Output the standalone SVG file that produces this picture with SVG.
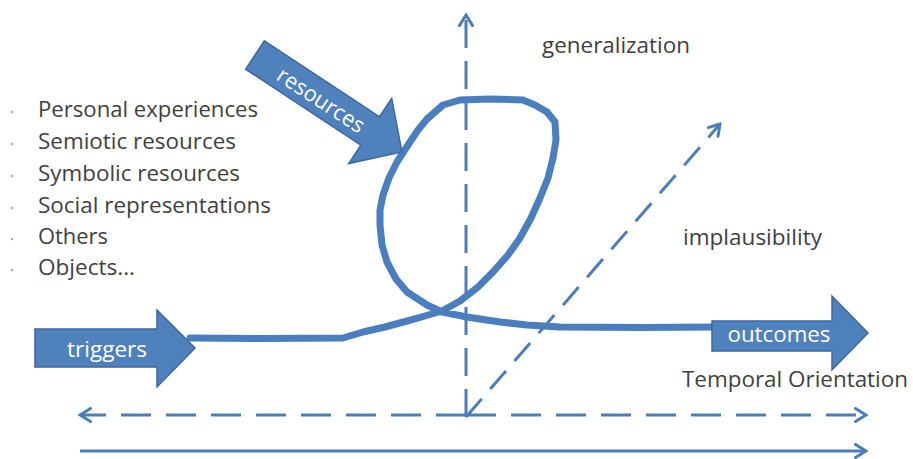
<svg xmlns="http://www.w3.org/2000/svg" width="913" height="459" viewBox="0 0 913 459">
  <style>
    .label { font-family: "Open Sans", "Liberation Sans", sans-serif; font-size: 22px; fill: #3f3f3f; }
    .inner { font-family: "Open Sans", "Liberation Sans", sans-serif; font-size: 22px; fill: #ffffff; }
    .block { fill: #4f81bd; stroke: #3b67a0; stroke-width: 1.5; stroke-linejoin: miter; }
    .axis { fill: none; stroke: #4a7ebb; stroke-width: 3; }
    .dash-v { stroke-dasharray: 28 13; }
    .dash-d { stroke-dasharray: 24 13; }
    .dash-h { stroke-dasharray: 30 15; }
    .path { fill: none; stroke: #4a7ebf; stroke-width: 7; stroke-linejoin: round; stroke-linecap: round; }
    .dot { fill: #b0b0b0; }
  </style>
  <defs>
    <marker id="chev" viewBox="0 0 14 16" refX="12" refY="8" markerWidth="14" markerHeight="16" markerUnits="userSpaceOnUse" orient="auto-start-reverse">
      <path d="M1.5,1.5 L12,8 L1.5,14.5" fill="none" stroke="#4a7ebb" stroke-width="3" stroke-linecap="round" stroke-linejoin="miter"/>
    </marker>
  </defs>

  <rect width="913" height="459" fill="#ffffff"/>

  <!-- axes and the developmental path -->
  <g id="connectors">
    <line class="axis dash-v" x1="466" y1="417" x2="466" y2="15" marker-end="url(#chev)"/>
    <line class="axis dash-d" x1="466" y1="417" x2="720" y2="124" marker-end="url(#chev)"/>
    <line class="axis dash-h" x1="466" y1="415" x2="866" y2="415" marker-end="url(#chev)"/>
    <line class="axis dash-h" x1="466" y1="415" x2="80" y2="415" marker-end="url(#chev)"/>
    <line class="axis" x1="80" y1="451" x2="866" y2="451" stroke-width="3.5" marker-end="url(#chev)"/>
    <polyline class="path" points="190,338 260,338.5 343,338 363,332 385,327 407,321 425,316 442,311 460,301 478,287 493,272 508,255 520,238 531,218 540,198 548,178 553,158 556,140 555,122 547,112 535,105 523,100 490,99 460,100 443,105 427,119 418,130 410,142 397,162 389,178 383,195 380,210 380,225 382,245 387,262 396,279 407,292 427,305 442,312 467,317 500,322 527,325 560,327 640,327.5 714,327"/>
  </g>

  <g id="node-triggers">
    <polygon class="block" points="35,329 157,329 157,310 195,348 157,387 157,367 35,367"/>
    <text class="inner" x="107" y="357" text-anchor="middle" textLength="80" lengthAdjust="spacingAndGlyphs">triggers</text>
  </g>

  <g id="node-resources" transform="translate(255,55) rotate(33.4)">
    <polygon class="block" points="0,-17 138,-17 138,-39 176,0 138,39 138,17 0,17"/>
    <text class="inner" x="80" y="9" text-anchor="middle" textLength="100" lengthAdjust="spacingAndGlyphs">resources</text>
  </g>

  <g id="node-outcomes">
    <polygon class="block" points="712,321 832,321 832,296 868,333 832,370 832,351 712,351"/>
    <text class="inner" x="779" y="342" text-anchor="middle" textLength="103" lengthAdjust="spacingAndGlyphs">outcomes</text>
  </g>

  <g id="node-resource-list">
    <circle class="dot" cx="12" cy="112" r="1.3"/>
    <circle class="dot" cx="12" cy="144" r="1.3"/>
    <circle class="dot" cx="12" cy="176" r="1.3"/>
    <circle class="dot" cx="12" cy="208" r="1.3"/>
    <circle class="dot" cx="12" cy="239" r="1.3"/>
    <circle class="dot" cx="12" cy="270" r="1.3"/>
    <text class="label" x="38" y="117" textLength="220" lengthAdjust="spacingAndGlyphs">Personal experiences</text>
    <text class="label" x="38" y="149" textLength="198" lengthAdjust="spacingAndGlyphs">Semiotic resources</text>
    <text class="label" x="38" y="181" textLength="202" lengthAdjust="spacingAndGlyphs">Symbolic resources</text>
    <text class="label" x="38" y="213" textLength="233" lengthAdjust="spacingAndGlyphs">Social representations</text>
    <text class="label" x="38" y="244" textLength="70" lengthAdjust="spacingAndGlyphs">Others</text>
    <text class="label" x="38" y="275" textLength="97" lengthAdjust="spacingAndGlyphs">Objects...</text>
  </g>

  <g id="node-generalization">
    <text class="label" x="542" y="53" textLength="148" lengthAdjust="spacingAndGlyphs">generalization</text>
  </g>
  <g id="node-implausibility">
    <text class="label" x="683" y="245" textLength="139" lengthAdjust="spacingAndGlyphs">implausibility</text>
  </g>
  <g id="node-temporal">
    <text class="label" x="682" y="387" textLength="226" lengthAdjust="spacingAndGlyphs">Temporal Orientation</text>
  </g>
</svg>
